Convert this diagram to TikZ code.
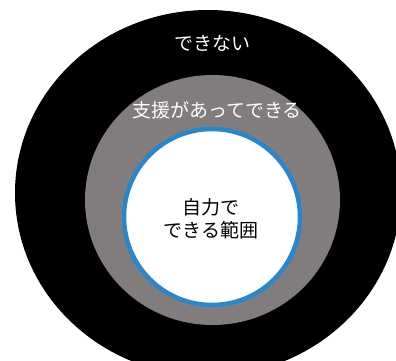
\documentclass[tikz,border=0pt]{standalone}
\usepackage{fontspec}
\newfontfamily\jp{Noto Sans CJK JP}
\usetikzlibrary{shapes.geometric}
\definecolor{ringgray}{RGB}{128,125,124}
\definecolor{ringblue}{RGB}{40,134,204}
\tikzset{
  ring/.style={ellipse, inner sep=0pt, draw=none},
  lbl/.style={font=\jp\fontsize{19pt}{23pt}\selectfont, inner sep=0pt, align=center}
}
\begin{document}
\begin{tikzpicture}[x=1pt,y=-1pt]
\useasboundingbox (0,0) rectangle (396,361);
\fill[white] (0,0) rectangle (396,361);
\node[ring, fill=black, minimum width=386pt, minimum height=366pt] (outer) at (208,193) {};
\node[ring, fill=ringgray, minimum width=255pt, minimum height=250pt] (mid) at (212.5,200) {};
\node[ring, fill=white, draw=ringblue, line width=4.5pt, minimum width=176pt, minimum height=176pt] (inner) at (212,217) {};
\node[lbl, text=white] (t1) at (212,43) {できない};
\node[lbl, text=white] (t2) at (217,110) {支援があってできる};
\node[lbl, text=black] (t3) at (211,219) {自力で\\できる範囲};
\end{tikzpicture}
\end{document}
